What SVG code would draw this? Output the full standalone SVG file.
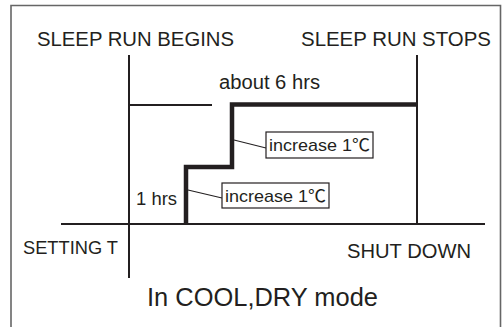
<svg xmlns="http://www.w3.org/2000/svg" width="504" height="327" viewBox="0 0 504 327">
<style>
.t{font-family:"Liberation Sans",Arial,"Noto Sans CJK SC",sans-serif;fill:#231f20}
.ln{stroke:#231f20;stroke-width:2;fill:none}
.thick{stroke:#231f20;stroke-width:4.5;fill:none}
.box{fill:#fff;stroke:#231f20;stroke-width:1.2}
</style>
<rect width="504" height="327" fill="#fff"/>
<path d="M11,330 V5.5 H500.5 V330" fill="none" stroke="#666" stroke-width="1.6"/>
<g id="connectors">
<line class="ln" x1="129" y1="55" x2="129" y2="278"/>
<line class="ln" x1="129" y1="105" x2="212" y2="105"/>
<line class="ln" x1="417" y1="55" x2="417" y2="224"/>
<line class="ln" x1="61" y1="224" x2="485" y2="224"/>
<polyline class="thick" points="186,224 186,167 232,167 232,104.5 417,104.5"/>
<line class="ln" style="stroke-width:1.2" x1="234" y1="140" x2="266" y2="148"/>
<line class="ln" style="stroke-width:1.2" x1="188" y1="190" x2="222" y2="198"/>
</g>
<g id="label-begins"><text class="t" x="37" y="46" font-size="20" textLength="197" lengthAdjust="spacingAndGlyphs">SLEEP RUN BEGINS</text></g>
<g id="label-stops"><text class="t" x="301" y="46" font-size="20" textLength="190" lengthAdjust="spacingAndGlyphs">SLEEP RUN STOPS</text></g>
<g id="label-6hrs"><text class="t" x="219" y="89" font-size="19.5" textLength="101" lengthAdjust="spacingAndGlyphs">about 6 hrs</text></g>
<g id="label-1hrs"><text class="t" x="136" y="205" font-size="18.5" textLength="41" lengthAdjust="spacingAndGlyphs">1 hrs</text></g>
<g id="box-increase-2">
<rect class="box" x="266" y="132" width="107" height="26"/>
<text class="t" x="269" y="151" font-size="17" textLength="101" lengthAdjust="spacingAndGlyphs">increase 1℃</text>
</g>
<g id="box-increase-1">
<rect class="box" x="222" y="183" width="107" height="25"/>
<text class="t" x="225" y="201.5" font-size="17" textLength="101" lengthAdjust="spacingAndGlyphs">increase 1℃</text>
</g>
<g id="label-setting"><text class="t" x="23" y="254" font-size="19" textLength="95" lengthAdjust="spacingAndGlyphs">SETTING T</text></g>
<g id="label-shutdown"><text class="t" x="347" y="258" font-size="19.5" textLength="124" lengthAdjust="spacingAndGlyphs">SHUT DOWN</text></g>
<g id="label-mode"><text class="t" x="147" y="306" font-size="25" textLength="231" lengthAdjust="spacingAndGlyphs">In COOL,DRY mode</text></g>
</svg>
